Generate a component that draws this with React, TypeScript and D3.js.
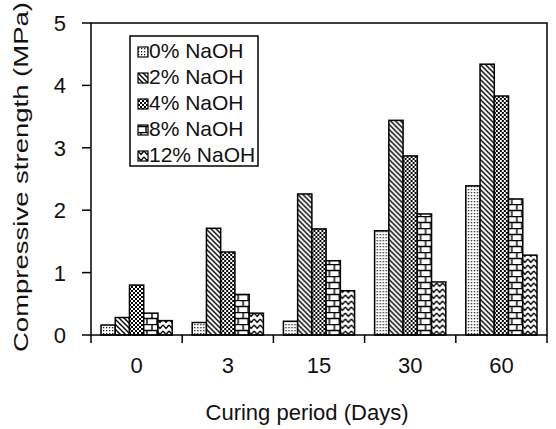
import React from 'react';
import * as d3 from 'd3';

const width = 556;
const height = 429;

const days = ['0', '3', '15', '30', '60'];
const seriesNames = ['0% NaOH', '2% NaOH', '4% NaOH', '8% NaOH', '12% NaOH'];
const naoh0 = [0.16, 0.2, 0.22, 1.67, 2.39];
const naoh2 = [0.28, 1.71, 2.26, 3.44, 4.34];
const naoh4 = [0.8, 1.33, 1.7, 2.87, 3.83];
const naoh8 = [0.35, 0.65, 1.19, 1.94, 2.18];
const naoh12 = [0.23, 0.35, 0.71, 0.85, 1.28];
const series = [naoh0, naoh2, naoh4, naoh8, naoh12];
const yTicks = [0, 1, 2, 3, 4, 5];

const patternIds = ['p0', 'p2', 'p4', 'p8', 'p12'];
const font = "'Liberation Sans', Arial, sans-serif";

const Patterns = () => (
	<defs>
		<pattern id="p0" width={3} height={3} patternUnits="userSpaceOnUse">
			<rect width={3} height={3} fill="#fff" />
			<rect x={0} y={0} width={1.3} height={1.3} fill="#222" />
		</pattern>
		<pattern id="p2" width={5} height={5} patternUnits="userSpaceOnUse">
			<rect width={5} height={5} fill="#fff" />
			<path d="M-1,-1 L6,6 M-1,4 L1,6 M4,-1 L6,1" stroke="#000" strokeWidth={1.4} />
		</pattern>
		<pattern id="p4" width={4} height={4} patternUnits="userSpaceOnUse">
			<rect width={4} height={4} fill="#000" />
			<rect x={0} y={0} width={2} height={2} fill="#fff" />
			<rect x={2} y={2} width={2} height={2} fill="#fff" />
		</pattern>
		<pattern id="p8" width={10} height={12} patternUnits="userSpaceOnUse">
			<rect width={10} height={12} fill="#fff" />
			<path d="M0,0.5 H10 M0,6.5 H10 M1,0 V6 M6,6 V12" stroke="#000" strokeWidth={1.4} />
		</pattern>
		<pattern id="p12" width={6} height={6} patternUnits="userSpaceOnUse">
			<rect width={6} height={6} fill="#fff" />
			<path d="M0,1 L3,4.5 L6,1" fill="none" stroke="#000" strokeWidth={1.4} />
		</pattern>
	</defs>
);

const App = () => {
	const left = 91;
	const right = 547;
	const top = 23;
	const bottom = 335;

	const x = d3.scaleBand().domain(days).range([left, right]).padding(0);
	const bw = x.bandwidth();
	const x1 = d3.scaleBand().domain(seriesNames).range([10, bw - 10]).padding(0);
	const y = d3.scaleLinear().domain([0, 5]).range([bottom, top]);

	return (
		<svg
			width={width}
			height={height}
			style={{ position: 'absolute', left: 0, top: 0, background: '#fff' }}
			fontFamily={font}
		>
			<Patterns />
			{/* bars */}
			{days.map((d, i) => (
				<g key={d} transform={`translate(${x(d)},0)`}>
					{series.map((s, j) => (
						<rect
							key={j}
							x={x1(seriesNames[j])}
							y={y(s[i])}
							width={x1.bandwidth()}
							height={y(0) - y(s[i])}
							fill={`url(#${patternIds[j]})`}
							stroke="#000"
							strokeWidth={1.5}
						/>
					))}
				</g>
			))}
			{/* frame */}
			<rect x={left} y={top} width={right - left} height={bottom - top} fill="none" stroke="#000" strokeWidth={1.5} />
			{/* y ticks */}
			{yTicks.map((t) => (
				<g key={t}>
					<line x1={left - 9} x2={left} y1={y(t)} y2={y(t)} stroke="#000" strokeWidth={1.5} />
					<text x={66} y={y(t)} dy="0.36em" textAnchor="end" fontSize={22} fill="#111">
						{t}
					</text>
				</g>
			))}
			{/* x ticks at category boundaries */}
			{days.concat(['end']).map((d, i) => {
				const px = i < days.length ? x(d) : right;
				return <line key={d} x1={px} x2={px} y1={bottom} y2={bottom + 8} stroke="#000" strokeWidth={1.5} />;
			})}
			{days.map((d) => (
				<text key={d} x={x(d) + bw / 2} y={373} textAnchor="middle" fontSize={22} fill="#111">
					{d}
				</text>
			))}
			<text x={307} y={420} textAnchor="middle" fontSize={22} fill="#111">
				Curing period (Days)
			</text>
			<text
				transform="translate(28,177) rotate(-90)"
				textAnchor="middle"
				fontSize={20}
				fill="#111"
				textLength={350}
				lengthAdjust="spacingAndGlyphs"
			>
				Compressive strength (MPa)
			</text>
			{/* legend */}
			<rect x={130} y={36} width={128} height={130} fill="#fff" stroke="#000" strokeWidth={1.5} />
			{seriesNames.map((n, j) => {
				const base = 58 + j * 26;
				return (
					<g key={n}>
						<rect x={138} y={base - 11} width={10} height={10} fill={`url(#${patternIds[j]})`} stroke="#000" strokeWidth={1.2} />
						<text x={149} y={base} fontSize={21} fill="#111">
							{n}
						</text>
					</g>
				);
			})}
		</svg>
	);
};

export default App;
